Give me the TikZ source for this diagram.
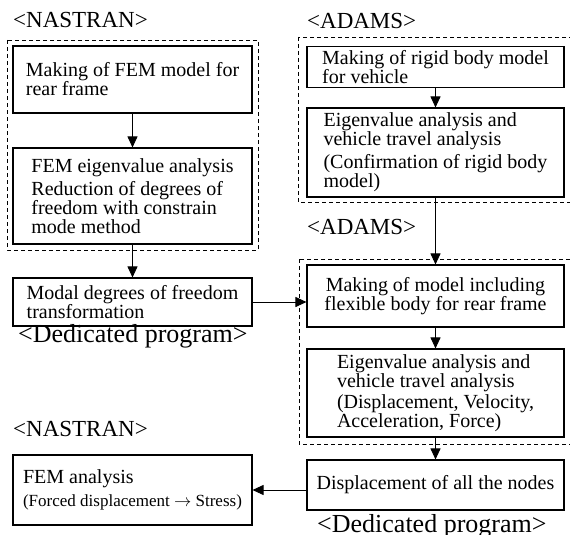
\documentclass[tikz,border=0pt]{standalone}
\usepackage{amsmath}
\usepackage{fontspec}
\setmainfont{Liberation Serif}
\usetikzlibrary{arrows.meta, positioning}

\begin{document}
\begin{tikzpicture}[x=1pt, y=-1pt, >={Triangle[length=11pt,width=10pt]},
    stepbox/.style={draw, line width=1.1pt, align=left, inner sep=0pt, minimum width=239pt, font=\fontsize{20}{19}\selectfont},
    wide/.style={minimum width=257pt},
    tag/.style={anchor=base west, inner sep=0pt, font=\fontsize{23}{23}\selectfont},
    bigtag/.style={tag, font=\fontsize{26}{26}\selectfont},
    frame/.style={draw, line width=0.9pt, dash pattern=on 4pt off 3pt},
    link/.style={->, line width=0.9pt}]
          \useasboundingbox (0,0) rectangle (570,535);

          \node[tag] (nastran1) at (13,28) {<NASTRAN>};
          \node[tag] (adams1) at (307,29) {<ADAMS>};
          \node[tag] (adams2) at (307,234) {<ADAMS>};
          \node[bigtag] (dedicated1) at (18,342) {<Dedicated program>};
          \node[tag] (nastran2) at (13,436) {<NASTRAN>};
          \node[bigtag] (dedicated2) at (317,532) {<Dedicated program>};

          \draw[frame] (7,40) rectangle (258,250);
          \draw[frame] (298,37) rectangle (575,202);
          \draw[frame] (299,259) rectangle (575,444);

          \node[stepbox, minimum height=67pt] (fem) at (132.5,79.5) {Making of FEM model for\\ rear frame};
          \node[stepbox, minimum height=96pt] (eigen) at (132.5,196) {FEM eigenvalue analysis\\[4pt] Reduction of degrees of\\ freedom with constrain\\ mode method};
          \node[stepbox, minimum height=48pt] (modal) at (132.5,302) {Modal degrees of freedom\\ transformation};
          \node[stepbox, minimum height=70pt] (stress) at (132.5,490) {FEM analysis\\[4pt] {\fontsize{17}{17}\selectfont (Forced displacement $\rightarrow$ Stress)}};

          \node[stepbox, wide, minimum height=41pt] (rigid) at (435.5,67) {Making of rigid body model\\ for vehicle};
          \node[stepbox, wide, minimum height=89pt] (confirm) at (435.5,152.5) {Eigenvalue analysis and\\ vehicle travel analysis\\[4pt] (Confirmation of rigid body\\ model)};
          \node[stepbox, wide, align=center, minimum height=62pt] (flexible) at (435.5,296) {Making of model including\\ flexible body for rear frame};
          \node[stepbox, wide, minimum height=88pt] (travel) at (435.5,393) {Eigenvalue analysis and\\ vehicle travel analysis\\[2pt] (Displacement, Velocity,\\ Acceleration, Force)};
          \node[stepbox, wide, minimum height=50pt] (nodes) at (435.5,485) {Displacement of all the nodes};

          \draw[link] (fem) -- (eigen);
          \draw[link] (eigen) -- (modal);
          \draw[link] (rigid) -- (confirm);
          \draw[link] (confirm) -- (flexible);
          \draw[link] (modal.east) -- (modal.east -| flexible.west);
          \draw[link] (flexible) -- (travel);
          \draw[link] (travel) -- (nodes);
          \draw[link] (stress.east -| nodes.west) -- (stress.east);
    \end{tikzpicture}
\end{document}
